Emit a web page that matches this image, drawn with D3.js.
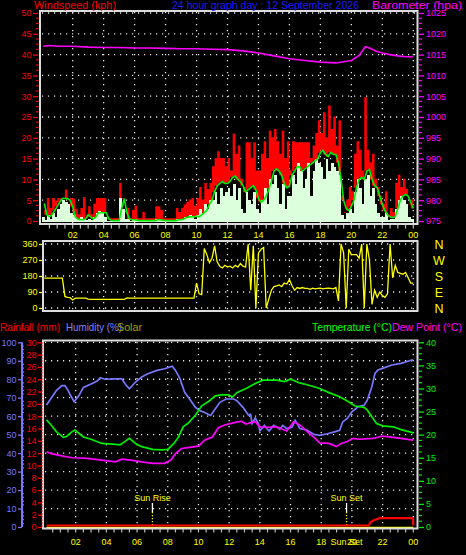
<!DOCTYPE html>
<html><head><meta charset="utf-8">
<script src="https://cdn.jsdelivr.net/npm/d3@7"></script>
<style>
body{margin:0;background:#000}
svg{display:block;background:#000}
text{font-family:"Liberation Sans",Arial,sans-serif}
</style>
</head><body>
<svg id="c" width="466" height="555"></svg>
<script>
// ---------------- DATA ----------------
const stepMinutes = 10; // wind/direction sampled every 10 min, from 00:10 to 24:00
const windGust = [
4.5,2.5,5.4,3.0,5.4,4.8, 5.4,5.4,5.4,7.4,5.0,5.4, 5.2,2.8,1.5,3.0,5.6,1.2, 3.4,1.5,4.0,5.4,5.4,5.4,
5.4,0.6,0.5,0.5,0.5,0.5, 9.0,5.4,2.5,3.0,0.5,2.5, 3.5,0.5,0.5,2.0,0.5,0.5, 0.5,0.5,3.4,3.4,2.5,0.5,
0.5,0.5,0.5,0.5,3.0,2.0, 3.0,3.8,4.5,5.0,5.4,3.5, 5.4,8.0,5.0,9.0,7.5,9.0, 13.0,15.0,16.6,15.0,15.0,13.0,
15.0,12.0,20.8,16.0,18.0,10.0, 8.0,18.8,18.8,15.0,18.8,12.0, 12.0,16.0,19.0,15.0,21.6,20.0, 22.0,19.0,16.0,21.6,15.0,19.0,
12.0,19.0,18.8,18.8,18.8,18.8, 18.8,18.8,15.0,18.0,21.0,24.0, 21.0,26.0,20.0,27.6,22.0,25.0, 18.0,24.0,6.0,2.0,5.0,8.0,
7.0,16.0,19.0,17.0,12.0,29.6, 17.0,14.0,16.0,10.0,8.0,6.0, 4.0,7.0,1.5,3.0,2.0,9.0, 11.0,8.0,10.0,7.6,4.0,5.0];
const windSpeed = [
1.0,0.3,1.5,0.5,2.0,1.0, 3.0,4.0,5.0,4.5,4.0,2.0, 1.5,0.5,0.3,1.0,0.5,0.2, 0.5,0.3,1.0,2.0,2.5,2.0,
1.0,0,0,0,0,0, 5.5,3.0,0.5,0.5,0,0.3, 0.5,0,0,0,0,0, 0,0,0.5,0.5,0.3,0,
0,0,0,0,0.5,0.3, 0.5,1.0,0.8,1.5,1.0,0.5, 1.5,3.0,2.0,4.0,3.0,5.0, 5.0,7.0,4.0,8.0,6.0,7.0,
8.0,6.0,9.0,5.0,8.0,3.0, 2.0,7.0,5.0,4.0,7.0,3.0, 2.0,5.0,8.0,4.0,10.0,9.0, 11.0,8.0,4.0,9.0,3.0,6.0,
6.0,11.0,9.0,14.0,12.0,8.0, 10.0,14.0,6.0,12.0,15.0,14.0, 13.0,10.0,15.0,12.0,14.0,13.0, 12.0,11.0,1.5,0.5,2.0,3.0,
2.0,7.0,10.0,8.0,4.0,10.0, 11.0,6.0,8.0,4.0,2.0,1.0, 1.0,2.0,0.3,0.5,0.5,3.0, 5.0,6.0,5.0,4.0,1.0,0.5];
const windAvg = [
4.2,1.5,1.0,1.5,2.5,3.5, 4.5,5.4,5.4,5.4,5.0,3.5, 1.0,0.5,0.3,0.3,0.5,1.5, 1.0,0.5,1.0,2.0,2.0,2.0,
2.0,0.5,0.2,0.1,0.1,0.1, 3.0,5.4,2.0,0.5,0.3,0.3, 0.2,0.1,0.1,0.1,0.1,0.1, 0.1,0.1,0.3,0.3,0.2,0.1,
0.1,0.1,0.1,0.1,0.3,0.3, 0.5,0.8,1.0,1.0,1.0,1.2, 1.0,1.5,2.0,2.6,4.0,5.0, 7.0,8.5,9.0,9.5,9.0,9.0,
9.5,10.5,10.8,10.0,9.5,8.5, 7.0,7.5,8.0,8.5,7.5,5.5, 4.5,5.0,6.0,7.5,9.5,12.0, 12.5,12.0,11.0,9.0,8.0,8.4,
11.0,12.0,13.0,13.0,12.0,12.5, 13.0,13.5,14.0,14.5,15.0,16.4, 17.0,16.0,15.5,16.5,16.0,16.0, 14.0,10.0,5.0,3.0,2.5,3.5,
5.0,8.0,10.0,10.5,10.0,12.0, 12.4,10.0,8.5,8.0,6.0,4.0, 2.5,1.5,1.0,0.8,1.0,3.0, 5.0,6.0,6.4,6.0,4.5,3.0];
const windDir = [
168,168,168,168,168,168, 168,168,65,60,58,45, 55,55,55,55,55,50, 48,48,48,48,48,48,
48,48,48,48,48,48, 48,48,57,55,55,55, 55,55,55,55,55,55, 55,55,55,55,55,55,
55,55,55,55,55,55, 55,55,55,55,55,140, 80,75,335,300,255,280, 350,260,235,225,240,230,
235,225,240,230,250,235, 230,360,100,350,0,310, 330,340,0,50,100,120, 125,130,120,140,135,160,
125,100,115,110,115,110, 110,105,112,108,110,112, 108,110,112,110,108,115, 40,360,310,0,330,300,
300,300,280,360,0,360, 270,20,100,60,90,70, 60,80,360,170,240,200, 195,190,200,170,140,140];

const baroHours  = [0.1,0.5,1,2,3,4,5,6,7,8,9,10,11,12,13,14,15,16,17,18,19,19.5,20,20.5,20.9,21.2,21.6,22,22.5,23,23.5,24];
const baroValues = [1017.0,1017.2,1017.0,1017.0,1016.8,1016.7,1016.7,1016.6,1016.6,1016.5,1016.4,1016.4,1016.3,1016.2,1015.9,1015.4,1014.7,1014.0,1013.6,1013.2,1013.0,1013.3,1013.6,1014.8,1016.9,1016.5,1015.8,1015.4,1015.0,1014.7,1014.5,1014.5];

const humHours  = [0.1,0.4,0.75,1.1,1.3,1.5,1.7,1.9,2.2,2.5,3.0,3.4,3.6,3.9,4.6,5.0,5.3,5.5,5.9,6.3,6.7,7.3,7.8,8.3,8.5,8.8,9.1,9.5,9.8,10.1,10.4,10.8,11.1,11.4,11.8,12.3,12.5,12.9,13.25,13.4,13.5,13.7,13.9,14.0,14.3,14.45,14.6,14.9,15.1,15.3,15.5,15.75,16.1,16.3,16.5,16.6,17.1,17.5,17.9,18.4,18.8,19.2,19.4,19.7,20.0,20.4,20.8,21.0,21.3,21.5,21.7,22.0,22.6,23.2,23.9,24];
const humValues = [66,69.7,74,76.5,76.5,74,70.8,67.8,71,75.6,77.4,79,80.8,80,80.2,80.2,76.6,74.8,78.5,81.2,83,84.8,85.7,87,84.8,80.2,72.9,68.4,64.8,63,62,60.4,64,67.5,69.3,69.3,68.4,64.8,60.6,61,56,59,56,52,55,53.3,52,55,54.2,53,55,53.3,54,57.8,55,53.3,52.4,50.2,49.6,50.5,51.4,52.4,56.9,58.8,62.4,65.1,66,68.7,75.9,83.1,85,85.9,87.7,88.6,90.4,90.4];

const tempHours  = [0.1,0.4,0.75,1.2,1.4,1.75,1.95,2.2,2.5,3.0,3.7,4.6,4.9,5.2,5.5,5.9,6.3,7.0,7.6,8.0,8.4,8.7,9.0,9.3,9.8,10.2,10.7,11.1,11.5,12.0,12.2,12.5,13.1,13.7,14.2,15.1,15.6,16.0,16.6,17.2,17.9,18.5,19.2,19.7,20.2,20.8,21.0,21.3,21.6,22.0,22.7,23.2,24];
const tempValues = [23.2,22.1,20.6,19.4,19.6,20.6,21.0,20.3,19.5,19.0,18.1,17.9,17.8,18.5,19.2,18.1,17.4,16.8,16.7,16.8,18.1,19.5,21.7,22.4,24.2,26.2,27.3,28.4,28.6,28.6,28.1,29.1,30.0,31.1,31.8,31.8,31.5,32.0,31.2,30.7,30.0,29.1,28.2,27.3,26.2,25.9,25.3,23.9,22.4,21.9,21.7,21.1,20.4];

const dewHours  = [0.1,0.4,1.1,1.75,2.6,3.7,4.6,5.0,5.6,6.3,7.0,7.8,8.2,8.5,8.9,9.3,10.0,10.4,10.9,11.3,11.7,12.2,12.8,13.1,13.4,13.7,14.0,14.45,15.1,15.75,16.2,16.6,17.1,17.5,17.9,18.5,19.0,19.3,19.7,20.1,20.5,21.4,22.0,22.7,24];
const dewValues = [16.3,15.9,15.4,15.0,14.9,14.5,14.1,14.7,14.5,14.1,13.8,13.8,14.5,15.9,17.0,17.2,17.5,18.8,19.5,21.5,22.1,22.5,22.9,22.3,22.6,22.8,21.7,21.6,21.7,20.8,22.8,22.1,20.6,19.5,18.2,18.1,17.4,18.1,18.5,19.2,19.0,19.2,19.7,19.4,18.8];

const rainHours  = [0.1,21.1,21.2,21.4,21.6,21.8,23.98,24];
const rainValues = [0,0,0.5,0.8,1.0,1.2,1.2,0];
const solarHours  = [0.1,24];
const solarValues = [0,0];

const hourLabels = ["02","04","06","08","10","12","14","16","18","20","22","00"];
const hourTicks  = [2,4,6,8,10,12,14,16,18,20,22,24];
const windTicks  = [0,5,10,15,20,25,30,35,40,45,50];
const baroTicks  = [975,980,985,990,995,1000,1005,1010,1015,1020,1025];
const dirTicks   = [0,90,180,270,360];
const dirLetters = ["N","E","S","W","N"];
const humTicks   = [0,10,20,30,40,50,60,70,80,90,100];
const rainTicks  = [0,2,4,6,8,10,12,14,16,18,20,22,24,26,28,30];
const tempTicks  = [0,5,10,15,20,25,30,35,40];
const sunRise = 7.0, sunSet = 19.65;

// ---------------- SCALES ----------------
const svg = d3.select("#c");
const xTop = d3.scaleLinear([0,24],[41.7,413.3]);
const yWind = d3.scaleLinear([0,50],[221,13]);
const yBaro = d3.scaleLinear([975,1025],[221,13]);
const yDir = d3.scaleLinear([0,360],[308,244]);
const xBot = d3.scaleLinear([0,24],[45,413.3]);
const yHum = d3.scaleLinear([0,100],[527,342.3]);
const yRain = d3.scaleLinear([0,30],[527,342.3]);
const yTemp = d3.scaleLinear([0,40],[527,342.3]);

const windT = windGust.map((d,i)=>(i+1)*stepMinutes/60);
const GRID = "#e8e8e8";
const dots = "1.2 4.8";
const fmt = d3.format("d");

function hgrid(ys, x1, x2){
  svg.append("g").selectAll("line").data(ys).join("line")
    .attr("x1",x1).attr("x2",x2).attr("y1",d=>d).attr("y2",d=>d)
    .attr("stroke",GRID).attr("stroke-width",1.3).attr("stroke-dasharray",dots);
}
function vgrid(xs, y1, y2){
  svg.append("g").selectAll("line").data(xs).join("line")
    .attr("x1",d=>d).attr("x2",d=>d).attr("y1",y1).attr("y2",y2)
    .attr("stroke",GRID).attr("stroke-width",1.3).attr("stroke-dasharray",dots);
}
function styleAxis(g,color,fs){
  g.select(".domain").remove();
  g.selectAll("line").attr("stroke",color).attr("stroke-width",1.3);
  g.selectAll("text").attr("fill",color).style("font-size",fs+"px");
}
function minor(x, scale, vals, len, color){
  svg.append("g").selectAll("line").data(vals).join("line")
    .attr("x1",x).attr("x2",x+len).attr("y1",d=>scale(d)).attr("y2",d=>scale(d))
    .attr("stroke",color).attr("stroke-width",1.2);
}
function xTicksBelow(scale, y, hours){
  svg.append("g").selectAll("line").data(hours).join("line")
    .attr("x1",d=>scale(d)).attr("x2",d=>scale(d)).attr("y1",y).attr("y2",y+3.5)
    .attr("stroke","#bbbbbb").attr("stroke-width",1.2);
}
const halfHours = d3.range(1,49).map(i=>i/2);

// ---------------- TOP: WIND + BARO ----------------
hgrid(windTicks.filter(d=>d>0).map(yWind), 42, 416);
vgrid(hourTicks.map(xTop), 12, 223);

// gust: red band from average up to gust
svg.append("path").datum(windGust).attr("d",d3.area().curve(d3.curveStepBefore)
  .x((d,i)=>xTop(windT[i])).y0((d,i)=>yWind(Math.min(windAvg[i],d))).y1(d=>yWind(d)-0.6)).attr("fill","#ff0000");
// speed: pale bars from zero
const barW = xTop(stepMinutes/60)-xTop(0);
svg.append("g").attr("shape-rendering","crispEdges").selectAll("rect").data(windSpeed).join("rect")
  .attr("x",(d,i)=>xTop(windT[i])-barW).attr("width",barW+0.3)
  .attr("y",d=>yWind(d)).attr("height",d=>yWind(0)-yWind(d)+1)
  .attr("fill","#dcffdc");
svg.append("path").datum(windAvg).attr("d",d3.line()
  .x((d,i)=>xTop(windT[i])).y(d=>yWind(d))).attr("fill","none").attr("stroke","#00ee00").attr("stroke-width",1.6);
svg.append("path").datum(baroValues).attr("d",d3.line()
  .x((d,i)=>xTop(baroHours[i])).y(d=>yBaro(d))).attr("fill","none").attr("stroke","#ff00ff").attr("stroke-width",1.6);

svg.append("rect").attr("x",40).attr("y",11).attr("width",377.5).attr("height",213)
  .attr("fill","none").attr("stroke","#dcdcdc").attr("stroke-width",2);

let g = svg.append("g").attr("transform","translate(38,0)")
  .call(d3.axisLeft(yWind).tickValues(windTicks).tickSize(5).tickPadding(1.5));
styleAxis(g,"#ff0000",9);
minor(36, yWind, d3.range(0,50,1.25).filter(d=>d%5!==0), 2.5, "#ff0000");
g = svg.append("g").attr("transform","translate(419,0)")
  .call(d3.axisRight(yBaro).tickValues(baroTicks).tickFormat(fmt).tickSize(5).tickPadding(2));
styleAxis(g,"#ff00ff",9);
minor(419, yBaro, d3.range(975,1025,1.25).filter(d=>(d-975)%5!==0), 3, "#ff00ff");

xTicksBelow(xTop, 225, halfHours);
svg.append("g").selectAll("text").data(hourTicks).join("text")
  .attr("x",d=>xTop(d)).attr("y",238).attr("text-anchor","middle")
  .attr("fill","#ffff00").style("font-size","9px").text((d,i)=>hourLabels[i]);

svg.append("text").attr("x",34).attr("y",9).attr("fill","#ff0000").style("font-size","11px")
  .attr("textLength",82).attr("lengthAdjust","spacingAndGlyphs").text("Windspeed (kph)");
svg.append("text").attr("x",172).attr("y",9).attr("fill","#1a1aff").style("font-size","11px")
  .attr("textLength",187).attr("lengthAdjust","spacingAndGlyphs").text("24 hour graph day : 12 September 2026");
svg.append("text").attr("x",372).attr("y",9).attr("fill","#ff00ff").style("font-size","11px")
  .attr("textLength",90).attr("lengthAdjust","spacingAndGlyphs").text("Barometer (hpa)");

// ---------------- MIDDLE: DIRECTION ----------------
hgrid(dirTicks.map(yDir), 45, 416);
vgrid(hourTicks.map(xTop), 242, 310);
svg.append("path").datum(windDir).attr("d",d3.line()
  .x((d,i)=>xTop(windT[i])).y(d=>yDir(d))).attr("fill","none").attr("stroke","#ffff00").attr("stroke-width",1.3);
svg.append("rect").attr("x",43).attr("y",241).attr("width",374.5).attr("height",70)
  .attr("fill","none").attr("stroke","#dcdcdc").attr("stroke-width",2);
g = svg.append("g").attr("transform","translate(42,0)")
  .call(d3.axisLeft(yDir).tickValues(dirTicks).tickSize(3).tickPadding(1.5));
styleAxis(g,"#ffff00",9);
svg.append("g").selectAll("text").data(dirTicks).join("text")
  .attr("x",439).attr("y",d=>yDir(d)+4.5).attr("text-anchor","middle")
  .attr("fill","#ffff00").style("font-size","12.5px").text((d,i)=>dirLetters[i]);

// ---------------- BOTTOM: HUM / TEMP / DEW / RAIN ----------------
hgrid(humTicks.filter(d=>d>0).map(yHum), 45, 416);
vgrid(hourTicks.map(xBot), 342, 527);

// sunrise / sunset markers
[sunRise, sunSet].forEach((h,k)=>{
  const x = xBot(h);
  svg.append("line").attr("x1",x).attr("x2",x).attr("y1",503).attr("y2",512).attr("stroke","#ffffff").attr("stroke-width",1.3);
  svg.append("line").attr("x1",x).attr("x2",x).attr("y1",512).attr("y2",527).attr("stroke","#ffff00").attr("stroke-width",1.3).attr("stroke-dasharray","1.2 1.8");
  svg.append("text").attr("x",x).attr("y",500.5).attr("text-anchor","middle").attr("fill","#ffff00")
    .style("font-size","9px").text(k===0?"Sun Rise":"Sun Set");
});

const lineB = (hours, yS)=>d3.line().x((d,i)=>xBot(hours[i])).y(d=>yS(d));
svg.append("path").datum(solarValues).attr("d",lineB(solarHours,yHum)).attr("fill","none").attr("stroke","#ffff00").attr("stroke-width",1.3).attr("transform","translate(0,0.5)");
svg.append("path").datum(rainValues).attr("d",lineB(rainHours,yRain)).attr("fill","none").attr("stroke","#ff0000").attr("stroke-width",2.2).attr("transform","translate(0,-1.5)");
svg.append("path").datum(humValues).attr("d",lineB(humHours,yHum)).attr("fill","none").attr("stroke","#7878ff").attr("stroke-width",1.7);
svg.append("path").datum(tempValues).attr("d",lineB(tempHours,yTemp)).attr("fill","none").attr("stroke","#00ee00").attr("stroke-width",1.7);
svg.append("path").datum(dewValues).attr("d",lineB(dewHours,yTemp)).attr("fill","none").attr("stroke","#ff00ff").attr("stroke-width",1.7);

svg.append("rect").attr("x",43).attr("y",340.5).attr("width",374.5).attr("height",188)
  .attr("fill","none").attr("stroke","#dcdcdc").attr("stroke-width",2);

// humidity axis
svg.append("line").attr("x1",22).attr("x2",22).attr("y1",yHum(100)).attr("y2",yHum(0)).attr("stroke","#7878ff").attr("stroke-width",2);
g = svg.append("g").attr("transform","translate(22,0)")
  .call(d3.axisLeft(yHum).tickValues(humTicks).tickSize(4).tickPadding(1.5));
styleAxis(g,"#7878ff",9);
minor(22, yHum, d3.range(0,100,2).filter(d=>d%10!==0), 2, "#7878ff");
// rain axis
svg.append("line").attr("x1",42).attr("x2",42).attr("y1",yRain(30)).attr("y2",yRain(0)).attr("stroke","#ff0000").attr("stroke-width",1.3).attr("stroke-dasharray","1.5 1.5");
g = svg.append("g").attr("transform","translate(42,0)")
  .call(d3.axisLeft(yRain).tickValues(rainTicks).tickSize(4).tickPadding(1.5));
styleAxis(g,"#ff0000",9);
// temp axis
g = svg.append("g").attr("transform","translate(419,0)")
  .call(d3.axisRight(yTemp).tickValues(tempTicks).tickSize(5).tickPadding(2));
styleAxis(g,"#00ee00",9);
minor(419, yTemp, d3.range(0,40,1.25).filter(d=>d%5!==0), 3, "#00ee00");

xTicksBelow(xBot, 529, halfHours);
svg.append("g").selectAll("text").data(hourTicks).join("text")
  .attr("x",d=>xBot(d)).attr("y",544.5).attr("text-anchor","middle")
  .attr("fill","#ffff00").style("font-size","9px").text((d,i)=>hourLabels[i]);
svg.append("text").attr("x",xBot(sunSet)).attr("y",544.5).attr("text-anchor","middle")
  .attr("fill","#ffff00").style("font-size","9px").text("Sun Set");

// legend
svg.append("text").attr("x",0).attr("y",331).attr("fill","#ff0000").style("font-size","11px")
  .attr("textLength",60).attr("lengthAdjust","spacingAndGlyphs").text("Rainfall (mm)");
svg.append("text").attr("x",66).attr("y",331).attr("fill","#8080ff").style("font-size","11px")
  .attr("textLength",56).attr("lengthAdjust","spacingAndGlyphs").text("Humidity (%)");
svg.append("text").attr("x",117).attr("y",331).attr("fill","#a0a000").style("font-size","11px")
  .attr("textLength",25).attr("lengthAdjust","spacingAndGlyphs").text("Solar");
svg.append("text").attr("x",312).attr("y",331).attr("fill","#00ff00").style("font-size","11px")
  .attr("textLength",80).attr("lengthAdjust","spacingAndGlyphs").text("Temperature (°C)");
svg.append("text").attr("x",392).attr("y",331).attr("fill","#ff00ff").style("font-size","11px")
  .attr("textLength",70).attr("lengthAdjust","spacingAndGlyphs").text("Dew Point (°C)");
</script>
</body></html>
